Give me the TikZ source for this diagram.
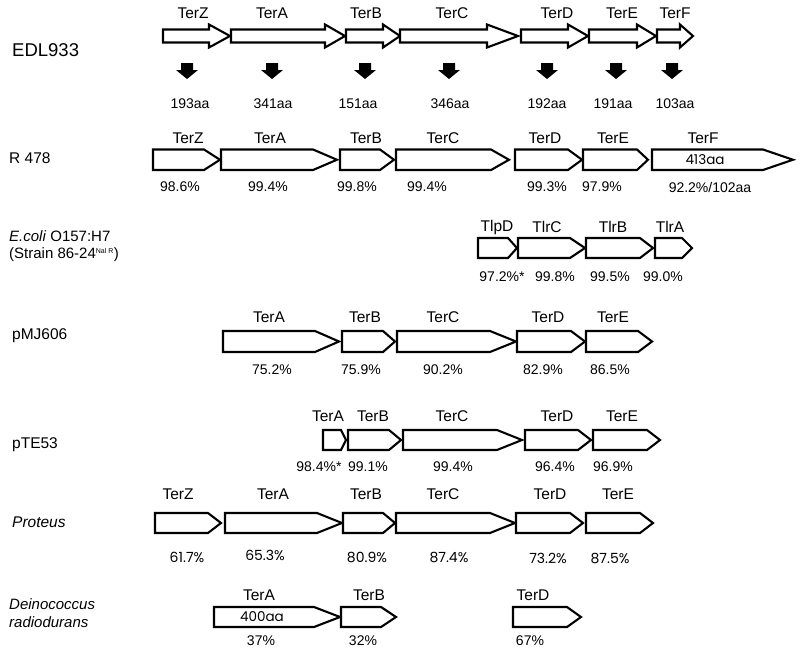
\documentclass[tikz,border=0pt]{standalone}
\usepackage{fontspec}
\setmainfont{Liberation Sans}
\newfontfamily\geofont{Poppins}
\begin{document}
\begin{tikzpicture}[x=1pt,y=-1pt,
  genestyle/.style={draw=black,fill=white,line width=2.1pt,line join=miter},
  lbl/.style={inner sep=0pt,font=\fontsize{15.5}{17}\selectfont},
  pct/.style={inner sep=0pt,font=\fontsize{14}{16}\selectfont},
  pctg/.style={inner sep=0pt,font=\geofont\fontsize{14}{16}\selectfont},
  rowname/.style={inner sep=0pt,anchor=west,font=\fontsize{15.5}{18}\selectfont},
  inner/.style={inner sep=0pt,font=\geofont\fontsize{13.5}{15}\selectfont}]
\useasboundingbox (0,0) rectangle (800,651);
\newcommand\genebox[5]{\draw[genestyle] (#1,#4) -- (#2,#4) -- (#3,{(#4+#5)/2}) -- (#2,#5) -- (#1,#5) -- cycle;}
\newcommand\blockarrow[3]{\draw[genestyle] (#1,29.5) -- (#2,29.5) -- (#2,24.5) -- (#3,36) -- (#2,47.5) -- (#2,42.5) -- (#1,42.5) -- cycle;}
\newcommand\blackdown[1]{\fill[black] (#1-6,63) -- (#1+6,63) -- (#1+6,70) -- (#1+11,70) -- (#1,79) -- (#1-11,70) -- (#1-6,70) -- cycle;}

% ---------- EDL933 ----------
\node[rowname,font=\fontsize{18.5}{20}\selectfont] (nEDL) at (12,50) {EDL933};
\blockarrow{163}{209}{230}
\blockarrow{231}{325}{345}
\blockarrow{346}{383}{400}
\blockarrow{400}{487}{518}
\blockarrow{521}{568}{588}
\blockarrow{589}{637}{656}
\blockarrow{657}{680}{693}
\node[lbl] (e1) at (193,13) {TerZ};
\node[lbl] (e2) at (272,13) {TerA};
\node[lbl] (e3) at (366,13) {TerB};
\node[lbl] (e4) at (452,13) {TerC};
\node[lbl] (e5) at (557,13) {TerD};
\node[lbl] (e6) at (622,13) {TerE};
\node[lbl] (e7) at (675,13) {TerF};
\blackdown{187}\blackdown{272}\blackdown{365}\blackdown{449}\blackdown{547}\blackdown{616}\blackdown{672}
\node[pct] (a1) at (190,104) {193aa};
\node[pct] (a2) at (273,104) {341aa};
\node[pct] (a3) at (358,104) {151aa};
\node[pct] (a4) at (450,104) {346aa};
\node[pct] (a5) at (547,104) {192aa};
\node[pct] (a6) at (613,104) {191aa};
\node[pct] (a7) at (675,104) {103aa};

% ---------- R 478 ----------
\node[rowname] (nR) at (9,158) {R 478};
\genebox{153}{204}{220}{149.5}{170}
\genebox{221}{313}{337}{149.5}{170}
\genebox{340}{380}{394}{149.5}{170}
\genebox{396}{491}{509}{149.5}{170}
\genebox{515}{568}{582}{149.5}{170}
\genebox{583}{637}{648}{149.5}{170}
\genebox{652}{763}{793}{149.5}{170}
\node[lbl] (r1) at (188,138) {TerZ};
\node[lbl] (r2) at (270,138) {TerA};
\node[lbl] (r3) at (366,138) {TerB};
\node[lbl] (r4) at (443,138) {TerC};
\node[lbl] (r5) at (545,138) {TerD};
\node[lbl] (r6) at (613,138) {TerE};
\node[lbl] (r7) at (703,138) {TerF};
\node[inner] (r7in) at (705,160) {413aa};
\node[pct] (rp1) at (180,187) {98.6\%};
\node[pct] (rp2) at (268,187) {99.4\%};
\node[pct] (rp3) at (357,187) {99.8\%};
\node[pct] (rp4) at (427,187) {99.4\%};
\node[pct] (rp5) at (547,187) {99.3\%};
\node[pct] (rp6) at (602,187) {97.9\%};
\node[pct] (rp7) at (710,187) {92.2\%/102aa};

% ---------- E. coli O157:H7 ----------
\node[rowname,font=\fontsize{15}{17}\selectfont] (nEc1) at (9,236) {\textit{E.coli} O157:H7};
\node[rowname,font=\fontsize{15}{17}\selectfont] (nEc2) at (9,255) {(Strain 86-24\textsuperscript{\fontsize{7}{8}\selectfont Nal R})};
\genebox{478}{508}{517}{238}{258}
\genebox{518}{570}{585}{238}{258}
\genebox{586}{640}{653}{238}{258}
\genebox{655}{682}{692}{238}{258}
\node[lbl] (c1) at (497,227) {TlpD};
\node[lbl] (c2) at (547,227) {TlrC};
\node[lbl] (c3) at (613,227) {TlrB};
\node[lbl] (c4) at (670,227) {TlrA};
\node[pct] (cp1) at (502,277) {97.2\%*};
\node[pct] (cp2) at (555,277) {99.8\%};
\node[pct] (cp3) at (610,277) {99.5\%};
\node[pct] (cp4) at (663,277) {99.0\%};

% ---------- pMJ606 ----------
\node[rowname] (nM) at (12,336) {pMJ606};
\genebox{223}{315}{339}{331}{352}
\genebox{342}{383}{395}{331}{352}
\genebox{397}{490}{516}{331}{352}
\genebox{517}{571}{585}{331}{352}
\genebox{586}{638}{652}{331}{352}
\node[lbl] (m1) at (269,317) {TerA};
\node[lbl] (m2) at (365,317) {TerB};
\node[lbl] (m3) at (443,317) {TerC};
\node[lbl] (m4) at (548,317) {TerD};
\node[lbl] (m5) at (613,317) {TerE};
\node[pct] (mp1) at (272,370) {75.2\%};
\node[pct] (mp2) at (361,370) {75.9\%};
\node[pct] (mp3) at (443,370) {90.2\%};
\node[pct] (mp4) at (543,370) {82.9\%};
\node[pct] (mp5) at (610,370) {86.5\%};

% ---------- pTE53 ----------
\node[rowname] (nT) at (12,445) {pTE53};
\genebox{323}{341}{346}{430}{450}
\genebox{348}{389}{401}{430}{450}
\genebox{403}{497}{522}{430}{450}
\genebox{525}{578}{591}{430}{450}
\genebox{593}{647}{660}{430}{450}
\node[lbl] (t1) at (328,416) {TerA};
\node[lbl] (t2) at (373,416) {TerB};
\node[lbl] (t3) at (452,416) {TerC};
\node[lbl] (t4) at (557,416) {TerD};
\node[lbl] (t5) at (622,416) {TerE};
\node[pct] (tp1) at (319,467) {98.4\%*};
\node[pct] (tp2) at (368,467) {99.1\%};
\node[pct] (tp3) at (453,467) {99.4\%};
\node[pct] (tp4) at (555,467) {96.4\%};
\node[pct] (tp5) at (613,467) {96.9\%};

% ---------- Proteus ----------
\node[rowname] (nP) at (12,522) {\textit{Proteus}};
\genebox{155}{208}{221}{513}{533}
\genebox{225}{317}{342}{513}{533}
\genebox{343}{383}{395}{513}{533}
\genebox{396}{490}{515}{513}{533}
\genebox{516}{570}{583}{513}{533}
\genebox{586}{640}{653}{513}{533}
\node[lbl] (p1) at (178,494) {TerZ};
\node[lbl] (p2) at (273,494) {TerA};
\node[lbl] (p3) at (366,494) {TerB};
\node[lbl] (p4) at (443,494) {TerC};
\node[lbl] (p5) at (550,494) {TerD};
\node[lbl] (p6) at (618,494) {TerE};
\node[pctg] (pp1) at (187,557) {61.7\%};
\node[pctg] (pp2) at (265,555) {65.3\%};
\node[pctg] (pp3) at (367,557) {80.9\%};
\node[pctg] (pp4) at (449,557) {87.4\%};
\node[pctg] (pp5) at (548,558) {73.2\%};
\node[pctg] (pp6) at (610,558) {87.5\%};

% ---------- Deinococcus radiodurans ----------
\node[rowname,font=\fontsize{15}{17}\selectfont\itshape] (nD1) at (9,604) {Deinococcus};
\node[rowname,font=\fontsize{15}{17}\selectfont\itshape] (nD2) at (9,622) {radiodurans};
\genebox{214}{314}{340}{607}{627}
\genebox{341}{381}{396}{607}{627}
\genebox{513}{567}{581}{607}{627}
\node[lbl] (d1) at (259,595) {TerA};
\node[lbl] (d2) at (369,595) {TerB};
\node[lbl] (d3) at (533,595) {TerD};
\node[inner] (d1in) at (262,617) {400aa};
\node[pct] (dp1) at (261,641) {37\%};
\node[pct] (dp2) at (363,641) {32\%};
\node[pct] (dp3) at (530,641) {67\%};
\end{tikzpicture}
\end{document}
